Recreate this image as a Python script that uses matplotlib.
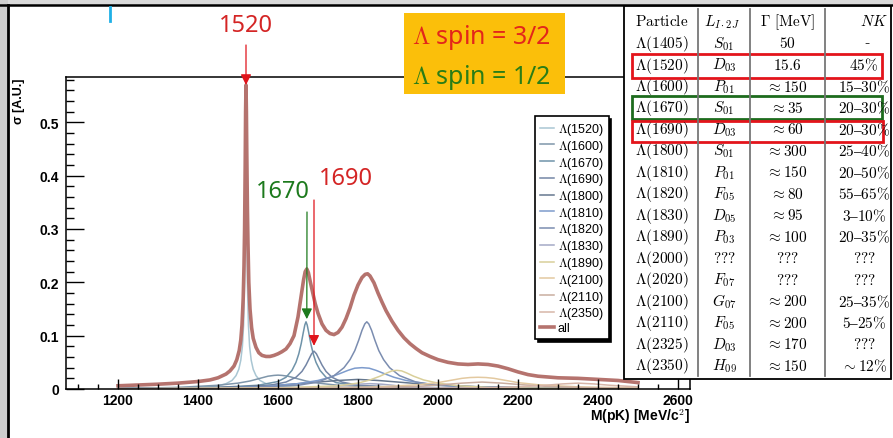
import matplotlib
matplotlib.use("Agg")
import matplotlib.pyplot as plt
from matplotlib.patches import Rectangle
from matplotlib.ticker import MultipleLocator, FuncFormatter

plt.rcParams['mathtext.fontset'] = 'cm'

# ---------------- data ----------------
labels = [r"$\Lambda$(1520)", r"$\Lambda$(1600)", r"$\Lambda$(1670)", r"$\Lambda$(1690)",
          r"$\Lambda$(1800)", r"$\Lambda$(1810)", r"$\Lambda$(1820)", r"$\Lambda$(1830)",
          r"$\Lambda$(1890)", r"$\Lambda$(2100)", r"$\Lambda$(2110)", r"$\Lambda$(2350)"]
colors = ['#a9c6d3', '#7f96aa', '#6f93a9', '#7486a6', '#66788f', '#7d9bcc',
          '#7b8db0', '#a4aac6', '#d9cf9a', '#e3c9a0', '#c9ad9f', '#d7b6a8']

m1520 = [1200, 1400, 1450, 1470, 1485, 1495, 1502, 1507, 1511, 1514, 1516.5, 1518, 1519, 1520, 1521, 1522,
         1523.5, 1526, 1529, 1533, 1538, 1545, 1555, 1570, 1600, 1650, 1750, 2500]
s1520 = [0.001, 0.003, 0.006, 0.01, 0.016, 0.025, 0.037, 0.054, 0.08, 0.12, 0.2, 0.33, 0.45, 0.54, 0.45, 0.33,
         0.2, 0.12, 0.08, 0.054, 0.037, 0.025, 0.016, 0.01, 0.006, 0.003, 0.0015, 0.0]
m1600 = [1200, 1350, 1450, 1500, 1530, 1555, 1575, 1590, 1600, 1610, 1625, 1645, 1670, 1700, 1750, 1850, 2000, 2500]
s1600 = [0.001, 0.003, 0.007, 0.011, 0.015, 0.02, 0.024, 0.0255, 0.026, 0.0255, 0.024, 0.02, 0.015, 0.011,
         0.007, 0.003, 0.0015, 0.0003]
m1670 = [1200, 1450, 1550, 1600, 1620, 1635, 1645, 1652, 1658, 1663, 1667, 1670, 1673, 1677, 1682, 1688,
         1695, 1705, 1720, 1745, 1800, 1900, 2500]
s1670 = [0.0005, 0.003, 0.007, 0.014, 0.022, 0.035, 0.05, 0.066, 0.085, 0.105, 0.12, 0.126, 0.12, 0.105,
         0.085, 0.066, 0.05, 0.035, 0.022, 0.012, 0.006, 0.003, 0.0005]
m1690 = [1200, 1500, 1580, 1620, 1645, 1660, 1670, 1678, 1684, 1690, 1696, 1702, 1710, 1720, 1735, 1760,
         1800, 1900, 2100, 2500]
s1690 = [0.0005, 0.003, 0.007, 0.013, 0.022, 0.033, 0.045, 0.057, 0.066, 0.071, 0.066, 0.057, 0.045, 0.033,
         0.022, 0.013, 0.007, 0.003, 0.001, 0.0003]
m1800 = [1200, 1400, 1500, 1600, 1700, 1750, 1800, 1850, 1900, 2000, 2100, 2300, 2500]
s1800 = [0.001, 0.002, 0.004, 0.007, 0.013, 0.016, 0.018, 0.016, 0.013, 0.007, 0.004, 0.002, 0.001]
m1810 = [1200, 1450, 1550, 1650, 1700, 1730, 1755, 1775, 1792, 1810, 1828, 1845, 1865, 1890, 1920, 1970,
         2050, 2200, 2500]
s1810 = [0.0005, 0.002, 0.004, 0.01, 0.016, 0.022, 0.029, 0.035, 0.039, 0.04, 0.039, 0.035, 0.029, 0.022,
         0.016, 0.01, 0.005, 0.002, 0.0008]
m1820 = [1200, 1500, 1650, 1700, 1740, 1765, 1780, 1792, 1802, 1810, 1817, 1822, 1827, 1834, 1842, 1852,
         1864, 1879, 1904, 1945, 2000, 2150, 2500]
s1820 = [0.0005, 0.002, 0.007, 0.013, 0.025, 0.04, 0.055, 0.072, 0.092, 0.11, 0.122, 0.126, 0.122, 0.11,
         0.092, 0.072, 0.055, 0.04, 0.025, 0.013, 0.007, 0.003, 0.001]
m1830 = [1200, 1600, 1700, 1760, 1800, 1830, 1860, 1900, 1960, 2100, 2500]
s1830 = [0.0002, 0.001, 0.003, 0.006, 0.009, 0.01, 0.009, 0.006, 0.003, 0.001, 0.0002]
m1890 = [1200, 1600, 1750, 1800, 1830, 1855, 1872, 1885, 1897, 1909, 1922, 1939, 1964, 2000, 2050, 2150, 2500]
s1890 = [0.0005, 0.002, 0.006, 0.011, 0.017, 0.024, 0.03, 0.034, 0.035, 0.034, 0.03, 0.024, 0.017, 0.011,
         0.006, 0.002, 0.0005]
m2100 = [1200, 1700, 1850, 1950, 2000, 2030, 2060, 2080, 2100, 2120, 2140, 2170, 2200, 2250, 2350, 2500]
s2100 = [0.0005, 0.002, 0.004, 0.008, 0.012, 0.016, 0.02, 0.0215, 0.022, 0.0215, 0.02, 0.016, 0.012, 0.008,
         0.004, 0.002]
m2110 = [1200, 1700, 1850, 1950, 2010, 2060, 2110, 2160, 2210, 2270, 2370, 2500]
s2110 = [0.0003, 0.0012, 0.0025, 0.005, 0.008, 0.011, 0.013, 0.011, 0.008, 0.005, 0.0025, 0.0012]
m2350 = [1200, 1900, 2100, 2200, 2270, 2310, 2350, 2390, 2430, 2500]
s2350 = [0.0002, 0.001, 0.002, 0.004, 0.007, 0.0095, 0.011, 0.0095, 0.007, 0.004]

m_all = [1200, 1250, 1300, 1350, 1400, 1430, 1450, 1470, 1480, 1490, 1497, 1503, 1507, 1510, 1513, 1515,
         1516.5, 1518, 1519, 1520, 1521, 1522, 1523.5, 1525, 1527, 1530, 1534, 1538, 1545, 1552, 1560,
         1570, 1580, 1590, 1600, 1610, 1620, 1630, 1640, 1650, 1658, 1664, 1668, 1672, 1676, 1681, 1687,
         1693, 1700, 1710, 1720, 1730, 1740, 1750, 1760, 1770, 1780, 1790, 1800, 1810, 1818, 1824, 1830,
         1840, 1850, 1860, 1870, 1885, 1900, 1915, 1930, 1945, 1960, 1980, 2000, 2025, 2050, 2075, 2100,
         2125, 2150, 2175, 2200, 2225, 2250, 2300, 2350, 2400, 2450, 2500]
s_all = [0.006, 0.0075, 0.009, 0.011, 0.014, 0.017, 0.021, 0.028, 0.034, 0.043, 0.055, 0.072, 0.092, 0.12,
         0.17, 0.23, 0.30, 0.42, 0.52, 0.57, 0.52, 0.44, 0.34, 0.27, 0.20, 0.15, 0.115, 0.095, 0.078, 0.068,
         0.063, 0.061, 0.061, 0.063, 0.066, 0.07, 0.075, 0.085, 0.10, 0.135, 0.175, 0.205, 0.22, 0.225,
         0.218, 0.20, 0.18, 0.16, 0.142, 0.122, 0.11, 0.104, 0.102, 0.106, 0.116, 0.132, 0.152, 0.176,
         0.195, 0.209, 0.215, 0.216, 0.212, 0.199, 0.18, 0.163, 0.147, 0.127, 0.11, 0.096, 0.085, 0.076,
         0.068, 0.061, 0.055, 0.05, 0.047, 0.046, 0.047, 0.046, 0.043, 0.038, 0.032, 0.027, 0.024, 0.021,
         0.02, 0.018, 0.016, 0.012]

masses = [m1520, m1600, m1670, m1690, m1800, m1810, m1820, m1830, m1890, m2100, m2110, m2350]
sigmas = [s1520, s1600, s1670, s1690, s1800, s1810, s1820, s1830, s1890, s2100, s2110, s2350]

# annotated peaks (mass, sigma at arrow tip)
peak_names = ["1520", "1670", "1690"]
peak_mass = [1520, 1672, 1690]
peak_sigma = [0.570, 0.131, 0.081]

# table
tab_particle = ["1405", "1520", "1600", "1670", "1690", "1800", "1810", "1820",
                "1830", "1890", "2000", "2020", "2100", "2110", "2325", "2350"]
tab_wave = ["S_{01}", "D_{03}", "P_{01}", "S_{01}", "D_{03}", "S_{01}", "P_{01}", "F_{05}",
            "D_{05}", "P_{03}", "???", "F_{07}", "G_{07}", "F_{05}", "D_{03}", "H_{09}"]
tab_width = ["50", "15.6", r"\approx 150", r"\approx 35", r"\approx 60", r"\approx 300", r"\approx 150",
             r"\approx 80", r"\approx 95", r"\approx 100", "???", "???", r"\approx 200", r"\approx 200",
             r"\approx 170", r"\approx 150"]
tab_nk = ["-", r"45\%", r"15–30\%", r"20–30\%", r"20–30\%", r"25–40\%", r"20–50\%", r"55–65\%",
          r"3–10\%", r"20–35\%", "???", "???", r"25–35\%", r"5–25\%", "???", r"\sim 12\%"]

# ---------------- figure ----------------
W, H = 893, 439
fig = plt.figure(figsize=(W / 100, H / 100), dpi=100)
fig.patch.set_facecolor('white')

bg = fig.add_axes([0, 0, 1, 1], zorder=0)
bg.set_xlim(0, W); bg.set_ylim(H, 0); bg.axis('off')
bg.add_patch(Rectangle((0, 0), W, 6, color='#dadada', lw=0))
bg.add_patch(Rectangle((0, 0), 8, H, color='#cdcdcd', lw=0))
bg.plot([0, W], [6, 6], color='black', lw=1.8)
bg.plot([8, 8], [6, H], color='black', lw=2.0)
bg.plot([110, 110], [8, 22], color='#1fb0e6', lw=2)

font_root = 'Liberation Sans'
ax = fig.add_axes([66 / W, (H - 390) / H, 624 / W, 312 / H], zorder=1)
ax.patch.set_alpha(0)
for i in range(len(masses)):
    ax.plot(masses[i], sigmas[i], color=colors[i], lw=1.1, label=labels[i])
ax.plot(m_all, s_all, color='#b5736e', lw=2.6, label='all', solid_joinstyle='round')
ax.set_xlim(1070, 2630)
ax.set_ylim(0, 0.585)
ax.set_axisbelow(False)
ax.xaxis.set_major_locator(MultipleLocator(200))
ax.xaxis.set_minor_locator(MultipleLocator(50))
ax.yaxis.set_major_locator(MultipleLocator(0.1))
ax.yaxis.set_minor_locator(MultipleLocator(0.02))
ax.yaxis.set_major_formatter(FuncFormatter(lambda v, p: '0' if abs(v) < 1e-9 else '%.1f' % v))
ax.tick_params(axis='x', which='major', direction='in', length=7.2, width=1, pad=3)
ax.tick_params(axis='x', which='minor', direction='in', length=3.6, width=1)
ax.tick_params(axis='y', which='major', direction='in', length=13, width=1, pad=5)
ax.tick_params(axis='y', which='minor', direction='in', length=6, width=1)
for lab in ax.get_xticklabels() + ax.get_yticklabels():
    lab.set_fontfamily(font_root); lab.set_fontweight('bold'); lab.set_fontsize(10)
for sp in ax.spines.values():
    sp.set_linewidth(1.1)
ax.set_xlabel(r"M(pK) [MeV/c$^{\mathbf{2}}$]", fontfamily=font_root, fontweight='bold', fontsize=10,
              ha='right', va='center')
ax.xaxis.set_label_coords(1.0, (390 - 417) / 312)
ax.set_ylabel("σ [A.U.]", fontfamily=font_root, fontweight='bold', fontsize=9, ha='right', va='center')
ax.yaxis.set_label_coords((19 - 66) / 624, 1.0)

leg = ax.legend(loc='upper left', bbox_to_anchor=(535 / W, 1 - 117 / H), bbox_transform=fig.transFigure,
                borderaxespad=0, handlelength=1.1, handletextpad=0.3, labelspacing=0.06,
                borderpad=0.4, fancybox=False, edgecolor='black', framealpha=1,
                shadow={'color': 'black', 'alpha': 1.0}, prop={'family': font_root, 'size': 9})
leg.get_frame().set_linewidth(1.2)

red = '#e0141b'
green = '#1d7a1d'
# arrows
starts = [(246, H - 46), (307, H - 213), (314, H - 201)]
acol = [red, green, red]
for k in range(3):
    ax.annotate('', xy=(peak_mass[k], peak_sigma[k]), xycoords='data',
                xytext=starts[k], textcoords='figure pixels',
                arrowprops=dict(arrowstyle='-|>,head_length=0.7,head_width=0.35', color=acol[k], lw=0.9,
                                mutation_scale=9, shrinkA=0, shrinkB=0), annotation_clip=False)

# foreground overlay
fg = fig.add_axes([0, 0, 1, 1], zorder=3)
fg.set_xlim(0, W); fg.set_ylim(H, 0); fg.axis('off')
fg.patch.set_alpha(0)

ann_font = 'Noto Sans'
fg.text(246, 26, peak_names[0], color='#d42525', fontsize=17, family=ann_font, ha='center', va='center')
fg.text(283, 192, peak_names[1], color=green, fontsize=17, family=ann_font, ha='center', va='center')
fg.text(346, 179, peak_names[2], color='#d42525', fontsize=17, family=ann_font, ha='center', va='center')

fg.add_patch(Rectangle((404, 14), 161, 81, color='#fbbf0a', lw=0))
fg.text(412, 37, r"$\Lambda$ spin = 3/2", color='#e3261a', fontsize=18, family=ann_font, ha='left', va='center')
fg.text(412, 77, r"$\Lambda$ spin = 1/2", color='#2a7d16', fontsize=18, family=ann_font, ha='left', va='center')

# table
fg.add_patch(Rectangle((624, 7), 267, 373, facecolor='white', edgecolor='black', lw=1.3))
for xs in [698, 750, 825]:
    fg.plot([xs, xs], [10, 377], color='#777777', lw=1.3)
col_x = [662, 724, 787, 864]
tfs = 11
fg.text(662, 22, r"$\mathrm{Particle}$", fontsize=tfs, ha='center', va='center')
fg.text(722, 22, r"$L_{I\cdot 2J}$", fontsize=tfs, ha='center', va='center')
fg.text(787, 22, r"$\Gamma\ [\mathrm{MeV}]$", fontsize=tfs, ha='center', va='center')
fg.text(874, 22, r"$NK$", fontsize=tfs, ha='center', va='center')
for i in range(len(tab_particle)):
    y = 44 + 21.5 * i
    fg.text(col_x[0], y, r"$\Lambda(%s)$" % tab_particle[i], fontsize=tfs, ha='center', va='center')
    fg.text(col_x[1], y, "$%s$" % tab_wave[i], fontsize=tfs, ha='center', va='center')
    fg.text(col_x[2], y, "$%s$" % tab_width[i], fontsize=tfs, ha='center', va='center')
    if tab_nk[i] == '-':
        fg.text(col_x[3] + 3, y, '-', fontsize=tfs, family='DejaVu Serif', ha='center', va='center')
    else:
        fg.text(col_x[3], y, "$%s$" % tab_nk[i], fontsize=tfs, ha='center', va='center')

fg.add_patch(Rectangle((632, 55), 250, 24, fill=False, edgecolor='#e3141b', lw=2.0))
fg.add_patch(Rectangle((632, 97), 250, 23, fill=False, edgecolor='#1d6b1d', lw=2.0))
fg.add_patch(Rectangle((632, 122), 251, 21, fill=False, edgecolor='#e3141b', lw=2.0))

fig.savefig('out.png', dpi=100)
